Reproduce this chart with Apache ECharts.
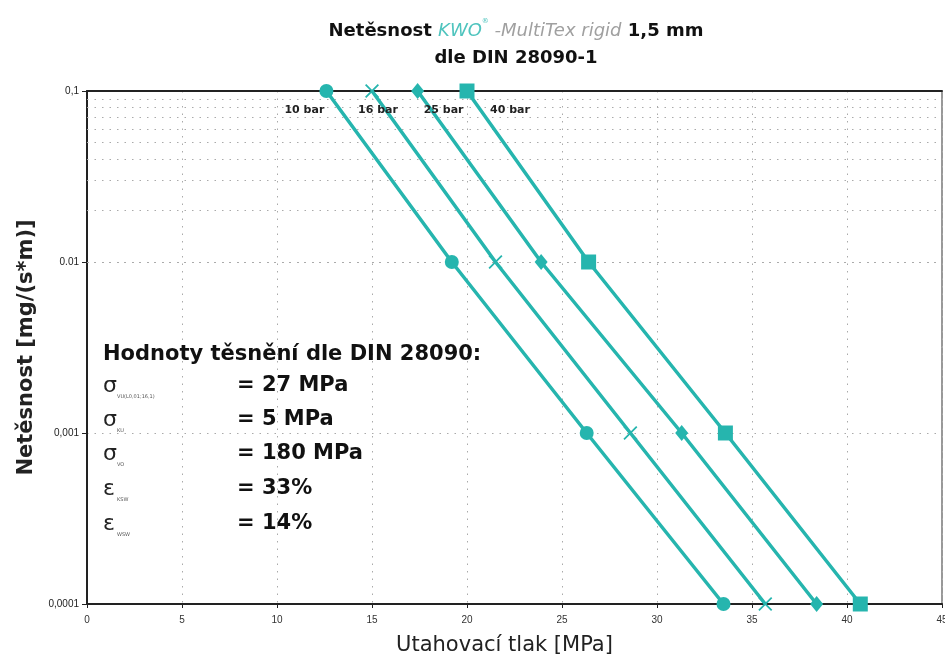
<!DOCTYPE html>
<html><head><meta charset="utf-8">
<script src="https://cdn.jsdelivr.net/npm/echarts@6/dist/echarts.min.js"></script>
<style>html,body{margin:0;padding:0;background:#fff}#c{width:945px;height:657px}</style>
</head><body><div id="c"></div>
<script>
// ---- data ----
const leakageLevels = [0.1, 0.01, 0.001, 0.0001];
const pressure10bar = [12.6, 19.2, 26.3, 33.5];
const pressure16bar = [15.0, 21.5, 28.6, 35.7];
const pressure25bar = [17.4, 23.9, 31.3, 38.4];
const pressure40bar = [20.0, 26.4, 33.6, 40.7];
const seriesNames = ['10 bar', '16 bar', '25 bar', '40 bar'];
const yTickLabels = ['0,0001', '0,001', '0.01', '0,1'];
const minorGridLevels = [0.09,0.08,0.07,0.06,0.05,0.04,0.03,0.02,
  0.009,0.008,0.007,0.006,0.005,0.004,0.003,0.002,
  0.0009,0.0008,0.0007,0.0006,0.0005,0.0004,0.0003,0.0002];
const annotationTitle = 'Hodnoty těsnění dle DIN 28090:';
const annotationSymbols = ['σ', 'σ', 'σ', 'ε', 'ε'];
const annotationSubs = ['VU(L0,01;16,1)', 'KU', 'VO', 'KSW', 'WSW'];
const annotationValues = ['= 27 MPa', '= 5 MPa', '= 180 MPa', '= 33%', '= 14%'];

// ---- styles ----
const teal = '#26b5ae';
const F = 'DejaVu Sans';
const xPath = 'path://M0,9L9,0L50,41L91,0L100,9L59,50L100,91L91,100L50,59L9,100L0,91L41,50Z';
const symbols = ['circle', xPath, 'diamond', 'rect'];
const symbolSizes = [14, 14, [13, 16], 15];
const labelOffsets = [[-22, 19], [6, 19], [26, 19], [43, 19]];
const allPressures = [pressure10bar, pressure16bar, pressure25bar, pressure40bar];

const series = allPressures.map((p, si) => ({
  name: seriesNames[si],
  type: 'line',
  symbol: symbols[si],
  symbolSize: symbolSizes[si],
  lineStyle: { color: teal, width: 3.5 },
  itemStyle: { color: teal },
  z: 5,
  data: p.map((x, i) => ({
    value: [x, leakageLevels[i]],
    label: i === 0 ? {
      show: true, formatter: seriesNames[si], position: 'inside',
      offset: labelOffsets[si], color: '#222', fontFamily: F,
      fontWeight: 'bold', fontSize: 11
    } : { show: false }
  }))
}));

series.push({
  type: 'line', data: [], silent: true,
  markLine: {
    silent: true, symbol: 'none', animation: false,
    label: { show: false },
    lineStyle: { color: '#aaa', type: [1.5, 6], width: 1 },
    data: minorGridLevels.map(v => ({ yAxis: v }))
  }
});

// annotation graphics
const graphics = [];
graphics.push({
  type: 'text', x: 516, y: 18, z: 10,
  style: {
    text: '{b|Netěsnost }{k|KWO}{s|®}{g| -MultiTex rigid}{b| 1,5 mm}\n{b|dle DIN 28090-1}',
    align: 'center', verticalAlign: 'top',
    rich: {
      b: { fontFamily: F, fontWeight: 'bold', fontSize: 18, fill: '#111', lineHeight: 27 },
      k: { fontFamily: F, fontStyle: 'italic', fontSize: 18, fill: '#4fc4be', lineHeight: 27 },
      s: { fontFamily: F, fontSize: 7, fill: '#4fc4be', verticalAlign: 'top', lineHeight: 27 },
      g: { fontFamily: F, fontStyle: 'italic', fontSize: 18, fill: '#a0a0a0', lineHeight: 27 }
    }
  }
});
graphics.push({
  type: 'text', x: 103, y: 355, z: 10,
  style: { text: annotationTitle, fontFamily: F, fontWeight: 'bold', fontSize: 21, fill: '#111', verticalAlign: 'middle' }
});
const rowY = [386, 420, 454, 489, 524];
annotationSymbols.forEach((s, i) => {
  graphics.push({ type: 'text', x: 103, y: rowY[i], z: 10,
    style: { text: s, fontFamily: F, fontSize: 22, fill: '#222', verticalAlign: 'middle' } });
  graphics.push({ type: 'text', x: 117, y: rowY[i] + 11, z: 10,
    style: { text: annotationSubs[i], fontFamily: F, fontSize: 5, fill: '#555', verticalAlign: 'middle' } });
  graphics.push({ type: 'text', x: 237, y: rowY[i], z: 10,
    style: { text: annotationValues[i], fontFamily: F, fontWeight: 'bold', fontSize: 21, fill: '#111', verticalAlign: 'middle' } });
});

const option = {
  animation: false,
  backgroundColor: '#fff',
  grid: { left: 87, right: 3, top: 91, bottom: 53, show: true, borderColor: '#333', borderWidth: 1,
          containLabel: false, outerBoundsMode: 'none' },
  xAxis: [{
    type: 'value', min: 0, max: 45, interval: 5,
    name: 'Utahovací tlak [MPa]', nameLocation: 'middle', nameGap: 31,
    nameTextStyle: { fontFamily: F, fontSize: 21, color: '#222', padding: [0, 20, 0, 0] },
    axisLine: { show: true, onZero: false, lineStyle: { color: '#222', width: 2 } },
    axisTick: { show: true, length: 4, lineStyle: { color: '#222' } },
    axisLabel: { fontFamily: 'Liberation Sans', fontSize: 10, color: '#333', margin: 11 },
    splitLine: { show: true, lineStyle: { color: '#aaa', type: [1.5, 6], width: 1 } }
  }, {
    type: 'value', min: 0, max: 45, position: 'top',
    axisLine: { show: true, onZero: false, lineStyle: { color: '#222', width: 2 } },
    axisTick: { show: false }, axisLabel: { show: false }, splitLine: { show: false }
  }],
  yAxis: {
    type: 'log', logBase: 10, min: 0.0001, max: 0.1,
    name: 'Netěsnost [mg/(s*m)]', nameLocation: 'middle', nameGap: 43, nameRotate: 90,
    nameTextStyle: { fontFamily: F, fontWeight: 'bold', fontSize: 21, color: '#222' },
    axisLine: { show: true, lineStyle: { color: '#222', width: 2 } },
    axisTick: { show: true, length: 5, lineStyle: { color: '#222' } },
    axisLabel: {
      fontFamily: 'Liberation Sans', fontSize: 10, color: '#222', margin: 8,
      formatter: v => yTickLabels[Math.round(Math.log10(v)) + 4] || ''
    },
    splitLine: { show: true, lineStyle: { color: '#aaa', type: [1.5, 6], width: 1 } }
  },
  graphic: graphics,
  series: series
};
const chart = echarts.init(document.getElementById('c'));
chart.setOption(option);
</script></body></html>
